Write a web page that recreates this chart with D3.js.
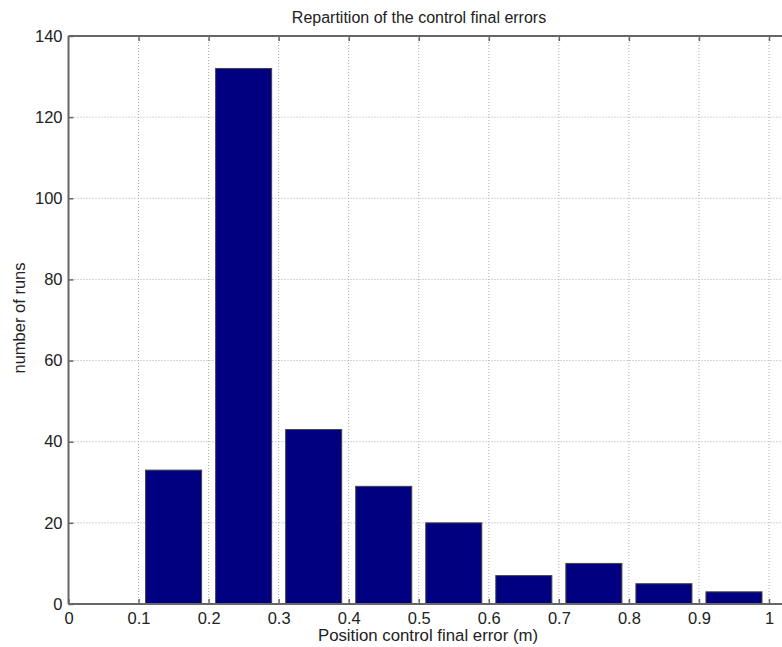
<!DOCTYPE html>
<html>
<head>
<meta charset="utf-8">
<script src="https://cdn.jsdelivr.net/npm/d3@7"></script>
<style>
  body { margin: 0; background: #fff; }
  text { font-family: "Liberation Sans", Arial, sans-serif; fill: #222; }
</style>
</head>
<body>
<div id="chart"></div>
<script>
// Histogram bins (centres) and counts
const binCenters = [0.15, 0.25, 0.35, 0.45, 0.55, 0.65, 0.75, 0.85, 0.95];
const counts = [33, 132, 43, 29, 20, 7, 10, 5, 3];
const xTicks = [0, 0.1, 0.2, 0.3, 0.4, 0.5, 0.6, 0.7, 0.8, 0.9, 1];
const yTicks = [0, 20, 40, 60, 80, 100, 120, 140];
const binWidth = 0.08;

const width = 782, height = 647;
const plotLeft = 68.5, plotTop = 36, plotBottom = 604;

const svg = d3.select("#chart").append("svg")
    .attr("width", width)
    .attr("height", height);

// plot extends a bit beyond x=1 and is cut by the picture edge
const xScale = d3.scaleLinear().domain([0, 1]).range([plotLeft, 769]);
const yScale = d3.scaleLinear().domain([0, 140]).range([plotBottom, plotTop]);
const plotRight = xScale(1.05);

// Grid lines
svg.append("g").selectAll("line")
    .data(xTicks.slice(1))
    .enter().append("line")
    .attr("x1", d => xScale(d)).attr("x2", d => xScale(d))
    .attr("y1", plotTop).attr("y2", plotBottom)
    .style("stroke", "#aaa").style("stroke-dasharray", "1,2");

svg.append("g").selectAll("line")
    .data(yTicks.slice(1, -1))
    .enter().append("line")
    .attr("x1", plotLeft).attr("x2", plotRight)
    .attr("y1", d => yScale(d)).attr("y2", d => yScale(d))
    .style("stroke", "#aaa").style("stroke-dasharray", "1,2");

// Bars
svg.append("g").selectAll("rect")
    .data(binCenters)
    .enter().append("rect")
    .attr("x", d => xScale(d - binWidth / 2))
    .attr("width", (d) => xScale(d + binWidth / 2) - xScale(d - binWidth / 2))
    .attr("y", (d, i) => yScale(counts[i]))
    .attr("height", (d, i) => plotBottom - yScale(counts[i]))
    .style("fill", "#000080")
    .style("stroke", "#444")
    .style("stroke-width", 1);

// Axes (MATLAB style: inward ticks)
const axisColor = "#666";
const xAxis = d3.axisBottom(xScale).tickValues(xTicks).tickSizeInner(-5).tickSizeOuter(0)
    .tickPadding(8).tickFormat(d => d3.format("")(d));
const gx = svg.append("g").attr("transform", `translate(0,${plotBottom})`).call(xAxis);
gx.select(".domain").remove();
gx.selectAll(".tick line").style("stroke", axisColor).style("stroke-width", 1.5);
gx.selectAll("text").style("font-size", "16.5px").style("fill", "#222");

const xAxisTop = d3.axisTop(xScale).tickValues(xTicks.slice(1)).tickSizeInner(-5).tickSizeOuter(0).tickFormat("");
const gxt = svg.append("g").attr("transform", `translate(0,${plotTop})`).call(xAxisTop);
gxt.select(".domain").remove();
gxt.selectAll(".tick line").style("stroke", axisColor).style("stroke-width", 1.5);

const yAxis = d3.axisLeft(yScale).tickValues(yTicks).tickSizeInner(-5).tickSizeOuter(0).tickPadding(6);
const gy = svg.append("g").attr("transform", `translate(${plotLeft},0)`).call(yAxis);
gy.select(".domain").remove();
gy.selectAll(".tick line").style("stroke", axisColor).style("stroke-width", 1.5);
gy.selectAll("text").style("font-size", "16.5px").style("fill", "#222");

// Box lines
svg.append("line").attr("x1", plotLeft).attr("x2", plotRight).attr("y1", plotBottom).attr("y2", plotBottom)
    .style("stroke", axisColor).style("stroke-width", 2);
svg.append("line").attr("x1", plotLeft).attr("x2", plotRight).attr("y1", plotTop).attr("y2", plotTop)
    .style("stroke", axisColor).style("stroke-width", 2);
svg.append("line").attr("x1", plotLeft).attr("x2", plotLeft).attr("y1", plotTop).attr("y2", plotBottom)
    .style("stroke", axisColor).style("stroke-width", 2);

// Labels
svg.append("text").attr("x", 419).attr("y", 23).attr("text-anchor", "middle")
    .style("font-size", "16px").text("Repartition of the control final errors");
svg.append("text").attr("x", 428).attr("y", 641).attr("text-anchor", "middle")
    .style("font-size", "16.8px").text("Position control final error (m)");
svg.append("text").attr("transform", `translate(25,${(plotTop + plotBottom) / 2 - 2}) rotate(-90)`)
    .attr("text-anchor", "middle").style("font-size", "16.5px").text("number of runs");
</script>
</body>
</html>
